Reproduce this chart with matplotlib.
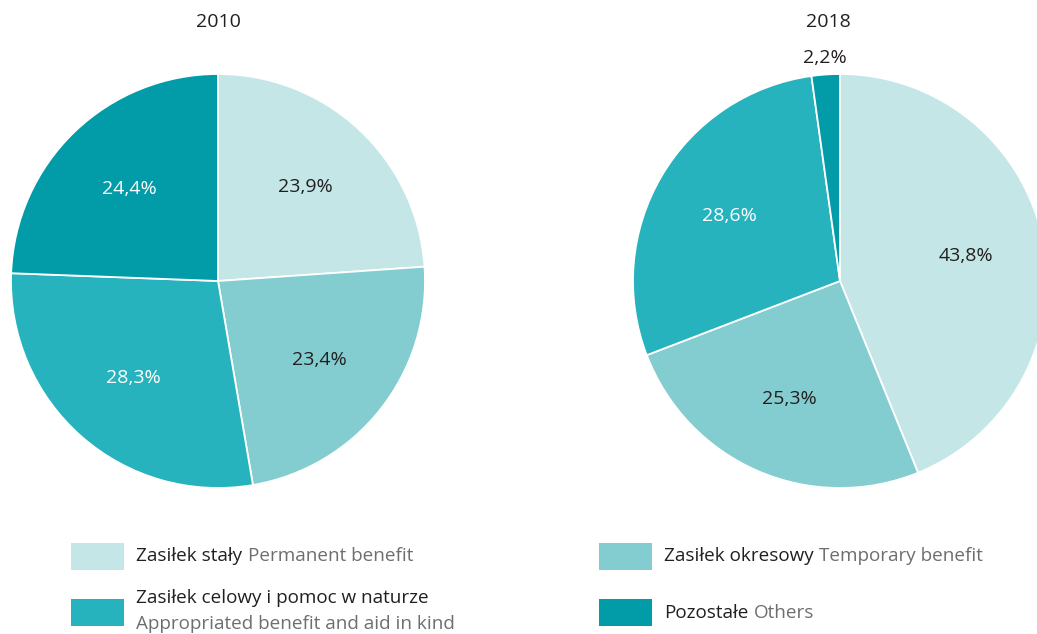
import matplotlib
matplotlib.use("Agg")
import matplotlib.pyplot as plt
from matplotlib.patches import Rectangle
import numpy as np

plt.rcParams['font.family'] = ['Open Sans', 'DejaVu Sans']

# shares of benefit types (%)
years = ['2010', '2018']
shares_2010 = [23.9, 23.4, 28.3, 24.4]
shares_2018 = [43.8, 25.3, 28.6, 2.2]
names_pl = ['Zasiłek stały', 'Zasiłek okresowy',
            'Zasiłek celowy i pomoc w naturze', 'Pozostałe']
names_en = ['Permanent benefit', 'Temporary benefit',
            'Appropriated benefit and aid in kind', 'Others']

colors = ['#c4e6e7', '#83cdd1', '#27b3bd', '#029ca9']
label_colors = ['#231f20', '#231f20', 'white', 'white']
dark = '#231f20'
grey = '#6d6e71'

W, H = 1037, 634
fig = plt.figure(figsize=(W / 100, H / 100), dpi=100)
ax = fig.add_axes([0, 0, 1, 1])

R = 207
centers = [(218, H - 281), (840, H - 281)]

for year, data, (cx, cy), tx in zip(years, [shares_2010, shares_2018], centers, [218, 828]):
    wedges, _ = ax.pie(data, colors=colors, startangle=90, counterclock=False,
                       center=(cx, cy), radius=R,
                       wedgeprops=dict(edgecolor='white', linewidth=1.3))
    for w, v, lc in zip(wedges, data, label_colors):
        ang = np.deg2rad((w.theta1 + w.theta2) / 2)
        # small slices get their label outside the pie
        if v < 5:
            d, c = 1.08, dark
        else:
            d, c = 0.62, lc
        ax.text(cx + d * R * np.cos(ang), cy + d * R * np.sin(ang),
                f'{v:.1f}%'.replace('.', ','), color=c, fontsize=14,
                ha='center', va='center')
    ax.text(tx, H - 22, year, color=dark, fontsize=14, ha='center', va='center')

# legend
legend_items = [
    (0, 71, 556, None),
    (1, 599, 556, None),
    (2, 71, 598, 624),
    (3, 599, 613, None),
]
fs = 13.6
for i, x0, y0, y1 in legend_items:
    sq_y = 556 if i < 2 else 612
    ax.add_patch(Rectangle((x0, H - sq_y - 13.5), 53, 27, color=colors[i], lw=0))
    t = ax.text(x0 + 65, H - y0, names_pl[i], color=dark, fontsize=fs,
                ha='left', va='center')
    if y1 is None:
        ax.annotate(names_en[i], xy=(1, 0.5), xycoords=t, xytext=(4, 0),
                    textcoords='offset points', color=grey, fontsize=fs,
                    ha='left', va='center')
    else:
        ax.text(x0 + 65, H - y1, names_en[i], color=grey, fontsize=fs,
                ha='left', va='center')

ax.set_xlim(0, W)
ax.set_ylim(0, H)
ax.set_aspect('auto')
ax.axis('off')

fig.savefig('out.png', dpi=100)
